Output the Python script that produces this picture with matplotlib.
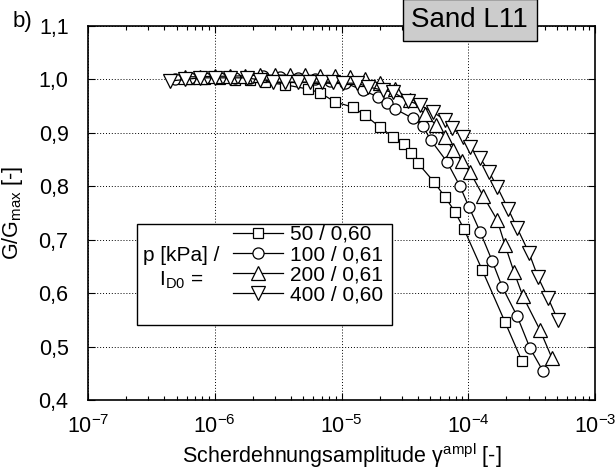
import matplotlib
matplotlib.use('Agg')
import matplotlib.pyplot as plt
from matplotlib.patches import Rectangle
from matplotlib.ticker import FixedLocator, FuncFormatter, LogLocator, NullFormatter

plt.rcParams['font.family'] = ['Liberation Sans', 'DejaVu Sans']
plt.rcParams['mathtext.fontset'] = 'custom'
plt.rcParams['mathtext.rm'] = 'Liberation Sans'

# p = 50 kPa, I_D0 = 0,60
gamma_50 = [6.4e-7, 8.4e-7, 1.10e-6, 1.45e-6, 1.90e-6, 2.49e-6, 3.58e-6, 5.45e-6,
            6.76e-6, 8.89e-6, 1.23e-5, 1.53e-5, 2.01e-5, 2.55e-5, 3.11e-5, 3.53e-5,
            4.02e-5, 5.37e-5, 6.56e-5, 7.87e-5, 9.25e-5, 1.29e-4, 1.95e-4, 2.65e-4]
g_50 = [1.0, 1.0, 1.0, 0.999, 0.999, 0.995, 0.99, 0.982,
        0.975, 0.958, 0.948, 0.933, 0.911, 0.892, 0.879, 0.862,
        0.843, 0.808, 0.780, 0.752, 0.720, 0.643, 0.546, 0.473]

# p = 100 kPa, I_D0 = 0,61
gamma_100 = [4.85e-7, 6.4e-7, 8.4e-7, 1.10e-6, 1.45e-6, 1.90e-6, 2.40e-6, 3.27e-6,
             4.54e-6, 6.18e-6, 8.11e-6, 1.07e-5, 1.48e-5, 1.94e-5, 2.29e-5, 2.64e-5,
             3.66e-5, 4.40e-5, 5.08e-5, 6.79e-5, 8.61e-5, 1.01e-4, 1.24e-4, 1.54e-4,
             1.85e-4, 2.43e-4, 3.07e-4, 3.89e-4]
g_100 = [1.0, 1.002, 1.002, 1.002, 1.002, 1.002, 1.006, 1.004,
         1.002, 1.0, 0.998, 0.993, 0.980, 0.967, 0.955, 0.945,
         0.927, 0.912, 0.886, 0.846, 0.800, 0.762, 0.715, 0.661,
         0.612, 0.557, 0.497, 0.454]

# p = 200 kPa, I_D0 = 0,61
gamma_200 = [5.82e-7, 7.65e-7, 1.00e-6, 1.32e-6, 1.73e-6, 2.28e-6, 2.99e-6, 3.93e-6,
             5.15e-6, 6.77e-6, 8.89e-6, 1.17e-5, 1.53e-5, 2.01e-5, 2.64e-5, 3.47e-5,
             4.56e-5, 5.57e-5, 6.56e-5, 7.59e-5, 8.93e-5, 1.03e-4, 1.31e-4, 1.69e-4,
             1.95e-4, 2.30e-4, 2.70e-4, 3.68e-4, 4.58e-4]
g_200 = [1.005, 1.005, 1.006, 1.006, 1.007, 1.008, 1.008, 1.008,
         1.008, 1.007, 1.006, 1.004, 1.0, 0.993, 0.982, 0.962,
         0.935, 0.915, 0.892, 0.868, 0.847, 0.827, 0.782, 0.737,
         0.690, 0.639, 0.594, 0.531, 0.478]

# p = 400 kPa, I_D0 = 0,60
gamma_400 = [4.43e-7, 5.82e-7, 7.65e-7, 1.00e-6, 1.32e-6, 1.79e-6, 2.28e-6, 2.88e-6,
             3.58e-6, 4.54e-6, 5.64e-6, 7.02e-6, 8.57e-6, 1.03e-5, 1.33e-5, 1.62e-5,
             2.12e-5, 2.55e-5, 3.35e-5, 4.16e-5, 5.27e-5, 6.56e-5, 7.45e-5, 9.10e-5,
             1.03e-4, 1.24e-4, 1.46e-4, 1.69e-4, 2.06e-4, 2.43e-4, 3.02e-4, 3.55e-4,
             4.26e-4, 5.11e-4]
g_400 = [0.997, 1.0, 1.003, 1.003, 1.003, 1.003, 0.999, 0.995,
         0.995, 0.995, 0.995, 0.995, 0.995, 0.993, 0.993, 0.986,
         0.980, 0.976, 0.960, 0.952, 0.939, 0.924, 0.909, 0.892,
         0.873, 0.853, 0.827, 0.799, 0.758, 0.722, 0.675, 0.630,
         0.591, 0.549]

labels = ['50 / 0,60', '100 / 0,61', '200 / 0,61', '400 / 0,60']
y_ticks = [0.4, 0.5, 0.6, 0.7, 0.8, 0.9, 1.0, 1.1]

fig = plt.figure(figsize=(6.15, 4.73), dpi=100)
ax = fig.add_axes([0.1431, 0.1543, 0.8244, 0.7907])

series = [(gamma_50, g_50, 's', 7.2), (gamma_100, g_100, 'o', 8.0),
          (gamma_200, g_200, '^', 9.4), (gamma_400, g_400, 'v', 9.4)]
handles = []
for (gx, gy, mk, ms), lab in zip(series, labels):
    h, = ax.plot(gx, gy, color='black', lw=0.9, marker=mk, ms=ms,
                 mfc='white', mec='black', mew=0.9, label=lab, clip_on=False)
    handles.append(h)

ax.set_xscale('log')
ax.set_xlim(1e-7, 1e-3)
ax.set_ylim(0.4, 1.1)
ax.yaxis.set_major_locator(FixedLocator(y_ticks))
ax.yaxis.set_major_formatter(FuncFormatter(lambda v, p: f'{v:.1f}'.replace('.', ',')))
ax.xaxis.set_major_locator(LogLocator(base=10, numticks=10))
ax.xaxis.set_minor_locator(LogLocator(base=10, subs=range(2, 10), numticks=10))
ax.xaxis.set_minor_formatter(NullFormatter())

ax.grid(True, which='major', color='black', linestyle=(0, (1, 2)), linewidth=0.7)
ax.tick_params(which='both', direction='in', top=True, right=True, labelsize=15.5, width=0.8)
ax.tick_params(which='major', length=5)
ax.tick_params(which='minor', length=3)
ax.tick_params(axis='x', which='major', pad=11)
ax.tick_params(axis='y', which='major', pad=14)
for sp in ax.spines.values():
    sp.set_linewidth(1.2)

ax.set_xlabel('Scherdehnungsamplitude γ$^{\\mathregular{ampl}}$ [-]', fontsize=15.5, labelpad=2)
ax.set_ylabel('G/G$_{\\mathregular{max}}$ [-]', fontsize=15.5, labelpad=10)

# legend box with the parameter label on its left
ax.add_patch(Rectangle((0.0966, 0.2005), 0.503, 0.2701, transform=ax.transAxes,
                       facecolor='white', edgecolor='black', lw=1.0, zorder=5))
ax.text(0.184, 0.352, 'p [kPa] /\nI$_{\\mathregular{D0}}$ =', transform=ax.transAxes,
        ha='center', va='center', fontsize=15, linespacing=1.3, zorder=6)
leg = ax.legend(handles=handles, loc='upper left', bbox_to_anchor=(0.285, 0.468),
                frameon=False, fontsize=15, handlelength=2.4, handletextpad=0.35,
                labelspacing=0.06, borderpad=0, borderaxespad=0)
leg.set_zorder(7)

fig.text(0.764, 0.958, 'Sand L11', ha='center', va='center', fontsize=20,
         bbox=dict(boxstyle='square,pad=0.3', facecolor='#cccccc', edgecolor='black', lw=1.0))
fig.text(0.02, 0.955, 'b)', ha='left', va='center', fontsize=16)

fig.savefig('out.png', dpi=100)
